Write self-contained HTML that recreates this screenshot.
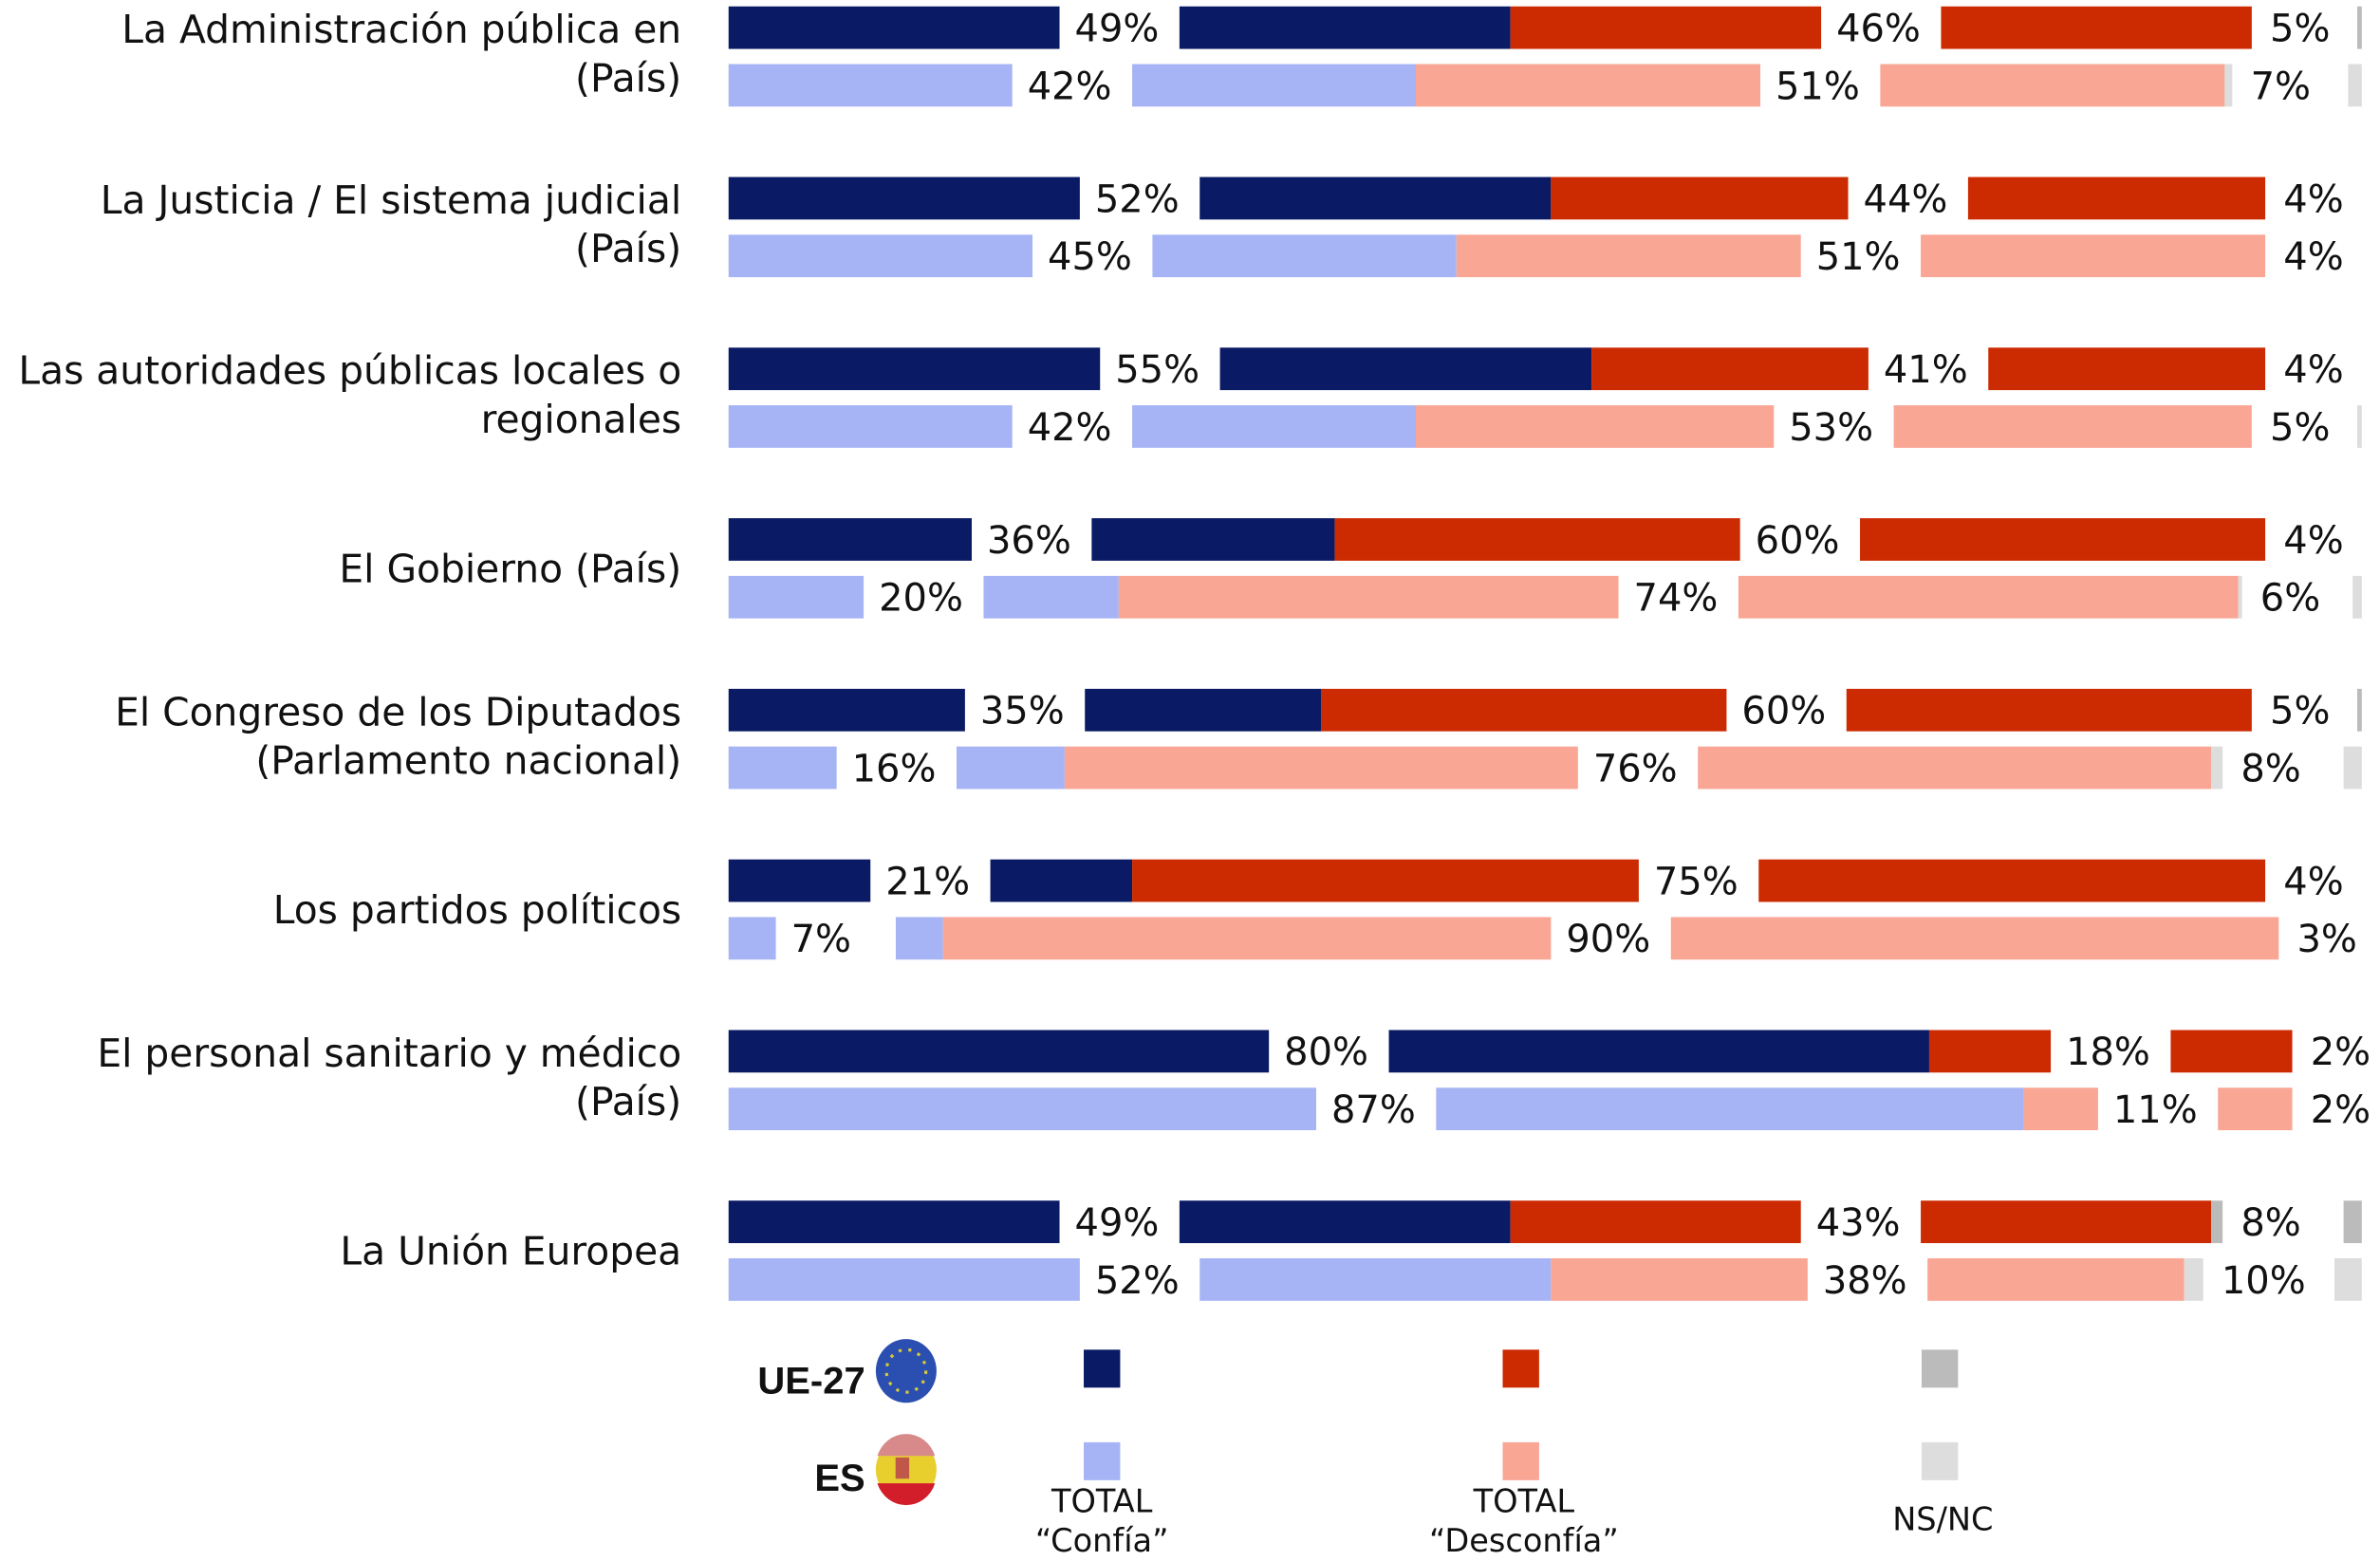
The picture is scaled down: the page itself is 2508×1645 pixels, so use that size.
<!DOCTYPE html>
<html><head><meta charset="utf-8"><style>
html,body{margin:0;padding:0;background:#fff;}
svg{display:block;}
text{font-family:"DejaVu Sans","Liberation Sans",sans-serif;fill:#111;}
</style></head><body>
<svg id="chart" width="2508" height="1645" viewBox="0 0 1568 1028" xmlns="http://www.w3.org/2000/svg">
<g id="bars"></g>
<g id="legend">
  <text x="570" y="918" text-anchor="end" font-size="25" font-weight="bold" style="font-family:'Liberation Sans',sans-serif">UE-27</text>
  <g>
    <ellipse cx="597" cy="903" rx="20" ry="21" fill="#2a4fb0"/>
    <ellipse cx="597" cy="903" rx="13" ry="14" fill="none" stroke="#d8c83a" stroke-width="2" stroke-dasharray="2 4.5"/>
  </g>
  <text x="570" y="982" text-anchor="end" font-size="25" font-weight="bold" style="font-family:'Liberation Sans',sans-serif">ES</text>
  <g>
    <ellipse cx="597" cy="968" rx="20" ry="21" fill="#e8cf2e"/>
    <path d="M578 959 A20 21 0 0 1 616 959 Z" fill="#d88a8a"/>
    <path d="M578 977 A20 21 0 0 0 616 977 Z" fill="#d21e2a"/>
    <rect x="590" y="960" width="9" height="14" fill="#c0584a"/>
  </g>
  <rect x="714" y="889" width="24" height="25" fill="#0a1a64"/>
  <rect x="990" y="889" width="24" height="25" fill="#cc2b02"/>
  <rect x="1266" y="889" width="24" height="25" fill="#bbbbbb"/>
  <rect x="714" y="950" width="24" height="25" fill="#a6b4f5"/>
  <rect x="990" y="950" width="24" height="25" fill="#f9a695"/>
  <rect x="1266" y="950" width="24" height="25" fill="#dddddd"/>
  <text text-anchor="middle" font-size="21"><tspan x="726" y="996">TOTAL</tspan><tspan x="726" y="1022">“Confía”</tspan></text>
  <text text-anchor="middle" font-size="21"><tspan x="1004" y="996">TOTAL</tspan><tspan x="1004" y="1022">“Desconfía”</tspan></text>
  <text x="1280" y="1008" text-anchor="middle" font-size="21">NS/NC</text>
</g>
</svg>
<script>
const categories = [
  ["La Administración pública en","(País)"],
  ["La Justicia / El sistema judicial","(País)"],
  ["Las autoridades públicas locales o","regionales"],
  ["El Gobierno (País)"],
  ["El Congreso de los Diputados","(Parlamento nacional)"],
  ["Los partidos políticos"],
  ["El personal sanitario y médico","(País)"],
  ["La Unión Europea"]
];
const euConfia    = [49,52,55,36,35,21,80,49];
const euDesconfia = [46,44,41,60,60,75,18,43];
const euNsnc      = [5,4,4,4,5,4,2,8];
const esConfia    = [42,45,42,20,16,7,87,52];
const esDesconfia = [51,51,53,74,76,90,11,38];
const esNsnc      = [7,4,5,6,8,3,2,10];

const NS = "http://www.w3.org/2000/svg";
const g = document.getElementById('bars');
const X0 = 480, K = 4.45, GAP = 79, BH = 28, ROWH = 112.4;
const xs = v => v * K;
function rect(x,y,w,h,fill,name){
  const r = document.createElementNS(NS,'rect');
  r.setAttribute('x',x); r.setAttribute('y',y); r.setAttribute('width',Math.max(0,w)); r.setAttribute('height',h); r.setAttribute('fill',fill);
  
  
  g.appendChild(r);
}
function txt(x,y,s,anchor,name,size){
  const t = document.createElementNS(NS,'text');
  t.setAttribute('x',x); t.setAttribute('y',y); t.setAttribute('font-size', size || '25');
  if(anchor) t.setAttribute('text-anchor',anchor);
  t.textContent = s;
  
  
  g.appendChild(t);
  return t;
}
function drawRow(y, c, d, n, cc, dc, nc, key){
  const mid = y + BH/2 + 9;
  let x = X0;
  rect(x, y, xs(c), BH, cc, key+'-confia-bar');
  txt(x + xs(c) + 10, mid, c + '%', null, key+'-confia-value');
  x = X0 + xs(c) + GAP;
  rect(x, y, xs(c), BH, cc, key+'-stack-confia');
  rect(x + xs(c), y, xs(d), BH, dc, key+'-stack-desconfia');
  txt(x + xs(c) + xs(d) + 10, mid, d + '%', null, key+'-stack-desconfia-value');
  x = x + xs(c) + xs(d) + GAP;
  rect(x, y, xs(d), BH, dc, key+'-desconfia-bar');
  const nw = Math.max(0, (n - 5) * 2.5);
  rect(x + xs(d), y, nw, BH, nc, key+'-nsnc-segment');
  txt(x + xs(d) + nw + 12, mid, n + '%', null, key+'-nsnc-value');
  const tw = Math.max(0, (n - 4) * 3);
  rect(1556 - tw, y, tw, BH, nc, key+'-nsnc-bar');
}
categories.forEach((lines, i) => {
  const top = 4 + i * ROWH;
  if (lines.length === 2) {
    txt(449, top + 24, lines[0], 'end', 'category-label-' + i + '-line1', '25.5');
    txt(449, top + 56, lines[1], 'end', 'category-label-' + i + '-line2', '25.5');
  } else {
    txt(449, top + 42, lines[0], 'end', 'category-label-' + i, '25.5');
  }
  drawRow(top, euConfia[i], euDesconfia[i], euNsnc[i], '#0a1a64', '#cc2b02', '#bbbbbb', 'eu-row-' + i);
  drawRow(top + 38, esConfia[i], esDesconfia[i], esNsnc[i], '#a6b4f5', '#f9a695', '#dddddd', 'es-row-' + i);
});
</script>
</body></html>
